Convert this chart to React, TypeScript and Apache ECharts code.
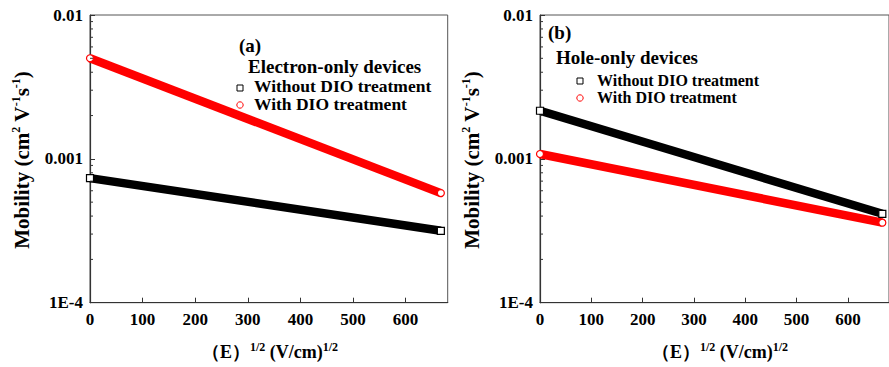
import React, { useEffect, useRef } from "react";
import * as echarts from "echarts";

// sqrt(E) in (V/cm)^1/2 at the first and last measured point
const fieldPoints = [0, 667];
// Mobility (cm^2 V^-1 s^-1)
const electronWithout = [7.35e-4, 3.16e-4];
const electronWith = [5.0e-3, 5.78e-4];
const holeWithout = [2.16e-3, 4.15e-4];
const holeWith = [1.08e-3, 3.6e-4];

const xTickValues = [0, 100, 200, 300, 400, 500, 600];
const yTickLabels: Record<string, string> = { "-2": "0.01", "-3": "0.001", "-4": "1E-4" };
const yMinorTicks = [2e-4, 3e-4, 4e-4, 5e-4, 6e-4, 7e-4, 8e-4, 9e-4, 2e-3, 3e-3, 4e-3, 5e-3, 6e-3, 7e-3, 8e-3, 9e-3];
const seriesNames = ["Without DIO treatment", "With DIO treatment"];
const panelTitles = ["(a)", "(b)"];
const deviceTitles = ["Electron-only devices", "Hole-only devices"];

const FONT = '"Liberation Serif", "Times New Roman", serif';
const RED = "#ff0000";
const BLACK = "#000000";

const GRID_W = 357.7;
const GRID_H = 287.7;
const GRID_TOP = 15;
const GRID_LEFTS = [90, 540];

function pairs(ys: number[]) {
  return fieldPoints.map((x, i) => [x, ys[i]]);
}

function bandSeries(name: string, ys: number[], idx: number, color: string, symbol: string) {
  return {
    type: "line",
    name,
    xAxisIndex: idx,
    yAxisIndex: idx,
    data: pairs(ys),
    symbol,
    symbolSize: 7,
    showSymbol: true,
    lineStyle: { color, width: 8.5 },
    itemStyle: { color: "#ffffff", borderColor: color, borderWidth: 1.2 },
    z: 3,
  };
}

function minorTickSeries(idx: number) {
  return {
    type: "custom",
    xAxisIndex: idx,
    yAxisIndex: idx,
    silent: true,
    clip: false,
    z: 5,
    data: yMinorTicks.map((v) => [0, v]),
    renderItem: (_p: any, api: any) => {
      const pt = api.coord([0, api.value(1)]);
      return {
        type: "line",
        shape: { x1: pt[0], y1: pt[1], x2: pt[0] + 3, y2: pt[1] },
        style: { stroke: "#333", lineWidth: 1 },
      };
    },
  };
}

function textEl(text: string, x: number, y: number, size: number, align = "left", extra: any = {}) {
  return {
    type: "text",
    x,
    y,
    silent: true,
    z: 10,
    ...extra,
    style: {
      text,
      fill: "#000",
      fontFamily: FONT,
      fontWeight: "bold",
      fontSize: size,
      align,
      verticalAlign: "middle",
      ...(extra.style || {}),
    },
  };
}

function legendMarks(cx: number, y1: number, y2: number) {
  return [
    {
      type: "rect",
      silent: true,
      z: 10,
      shape: { x: cx - 3, y: y1 - 3, width: 6, height: 6 },
      style: { fill: "#fff", stroke: BLACK, lineWidth: 1 },
    },
    {
      type: "circle",
      silent: true,
      z: 10,
      shape: { cx, cy: y2, r: 3.2 },
      style: { fill: "#fff", stroke: RED, lineWidth: 1 },
    },
  ];
}

const supRich = {
  sup: { fontFamily: FONT, fontWeight: "bold", fontSize: 12, verticalAlign: "top", lineHeight: 12 },
};

export default function App() {
  const ref = useRef<HTMLDivElement>(null);
  useEffect(() => {
    if (!ref.current) return;
    const chart = echarts.init(ref.current, undefined, { renderer: "svg" });
    const grids = GRID_LEFTS.map((left) => ({
      left,
      top: GRID_TOP,
      width: GRID_W,
      height: GRID_H,
      show: true,
      borderColor: "#555",
      borderWidth: 1,
      containLabel: false,
    }));
    const xAxes = GRID_LEFTS.map((_, i) => ({
      type: "value",
      gridIndex: i,
      min: 0,
      max: 680,
      interval: 100,
      axisLine: { show: true, onZero: false, lineStyle: { color: "#333", width: 1.2 } },
      axisTick: { show: true, inside: true, length: 5, lineStyle: { color: "#333" } },
      splitLine: { show: false },
      axisLabel: {
        color: "#000",
        fontFamily: FONT,
        fontWeight: "bold",
        fontSize: 17,
        margin: 8,
        showMaxLabel: false,
        formatter: (v: number) => (xTickValues.indexOf(v) >= 0 ? String(v) : ""),
      },
    }));
    const yAxes = GRID_LEFTS.map((_, i) => ({
      type: "log",
      logBase: 10,
      gridIndex: i,
      min: 1e-4,
      max: 1e-2,
      axisLine: { show: true, lineStyle: { color: "#333", width: 1.2 } },
      axisTick: { show: true, inside: true, length: 5, lineStyle: { color: "#333" } },
      splitLine: { show: false },
      axisLabel: {
        color: "#000",
        fontFamily: FONT,
        fontWeight: "bold",
        fontSize: 17,
        margin: 7,
        formatter: (v: number) => yTickLabels[String(Math.round(Math.log10(v)))] || "",
      },
    }));

    const series = [
      bandSeries(seriesNames[0], electronWithout, 0, BLACK, "rect"),
      bandSeries(seriesNames[1], electronWith, 0, RED, "circle"),
      bandSeries(seriesNames[0], holeWithout, 1, BLACK, "rect"),
      bandSeries(seriesNames[1], holeWith, 1, RED, "circle"),
      minorTickSeries(0),
      minorTickSeries(1),
    ];

    const yName = "Mobility (cm{sup|2} V{sup|-1}s{sup|-1})";
    const xName = "（E）{sup|1/2} (V/cm){sup|1/2}";

    const graphic: any[] = [
      // panel (a)
      textEl(panelTitles[0], 239, 45, 19),
      textEl(deviceTitles[0], 248, 66, 19),
      ...legendMarks(240, 88, 105),
      textEl(seriesNames[0], 254, 85.5, 17.5),
      textEl(seriesNames[1], 254, 104, 17.5),
      // panel (b)
      textEl(panelTitles[1], 548, 32, 19),
      textEl(deviceTitles[1], 556, 57, 19),
      ...legendMarks(580, 81, 98),
      textEl(seriesNames[0], 597, 80, 16),
      textEl(seriesNames[1], 597, 97.5, 16),
      // axis names
      textEl(yName, 22, 160, 21, "center", { rotation: Math.PI / 2, style: { rich: supRich, lineHeight: 24 } }),
      textEl(yName, 472, 160, 21, "center", { rotation: Math.PI / 2, style: { rich: supRich, lineHeight: 24 } }),
      textEl(xName, 270, 352, 18, "center", { style: { rich: supRich, lineHeight: 22 } }),
      textEl(xName, 720, 352, 18, "center", { style: { rich: supRich, lineHeight: 22 } }),
    ];

    chart.setOption({
      animation: false,
      backgroundColor: "#ffffff",
      grid: grids,
      xAxis: xAxes,
      yAxis: yAxes,
      series,
      graphic,
    });
    return () => chart.dispose();
  }, []);
  return (
    <div
      ref={ref}
      style={{ position: "absolute", left: 0, top: 0, width: 889, height: 367, overflow: "hidden" }}
    />
  );
}
